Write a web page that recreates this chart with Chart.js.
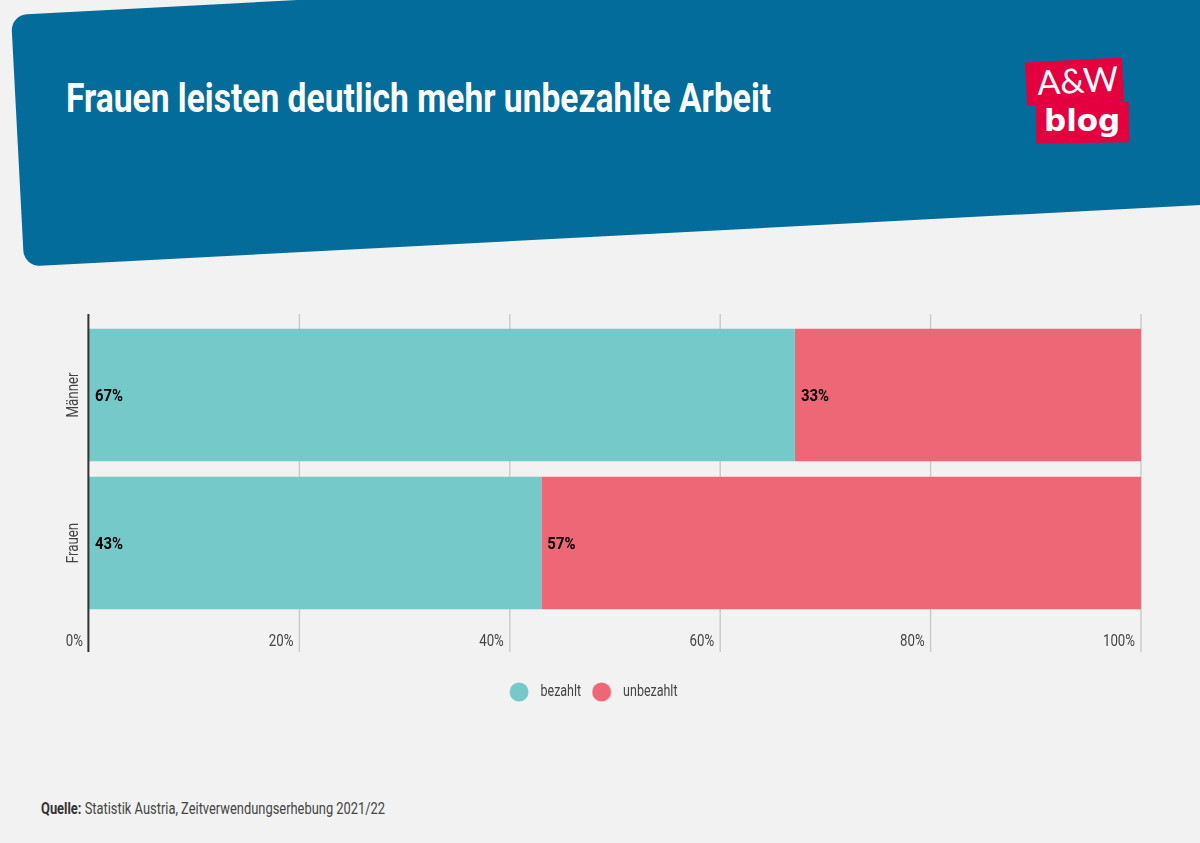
<!DOCTYPE html>
<html lang="de"><head><meta charset="utf-8">
<script src="https://cdn.jsdelivr.net/npm/chart.js@4"></script>
<style>
html,body{margin:0;padding:0;background:#f2f2f2;width:1200px;height:843px;overflow:hidden;font-family:Roboto,sans-serif}
#band{position:absolute;left:11.3px;top:15px;width:1300px;height:251.8px;background:#036c9b;border-radius:16px;transform-origin:0 0;transform:rotate(-3deg)}
#title{position:absolute;left:66px;top:74px;color:#fff;font-weight:700;font-size:41px;line-height:48px;white-space:nowrap;transform-origin:0 50%}
.lg{position:absolute;background:#e4003f}
#l1{left:1025.5px;top:59.5px;width:97px;height:43px;transform:rotate(-3deg)}
#l2{left:1036px;top:101.5px;width:93px;height:41px;transform:rotate(-.8deg)}
.lt{position:absolute;color:#fff;white-space:nowrap}
#t1{left:1037px;top:62px;font:400 34px/40px Lato,sans-serif;transform-origin:0 50%;transform:rotate(-3deg)}
#t2{left:1044px;top:100px;font:700 31px/40px 'DejaVu Sans',sans-serif}
#src{position:absolute;left:41px;top:797px;font-size:17px;line-height:22px;color:#444;white-space:nowrap;transform-origin:0 50%}
#src b{color:#333}
canvas{position:absolute;left:0;top:0}
</style></head><body>
<div id="band"></div>
<div id="title">Frauen leisten deutlich mehr unbezahlte Arbeit</div>
<div class="lg" id="l1"></div><div class="lg" id="l2"></div>
<div class="lt" id="t1">A&amp;W</div><div class="lt" id="t2">blog</div>
<div id="src"><b>Quelle:</b> Statistik Austria, Zeitverwendungserhebung 2021/22</div>
<div style="position:absolute;left:0;top:0;width:1200px;height:843px"><canvas id="c"></canvas></div>
<script>
const categories=['Männer','Frauen'];
const paid=[67.1,43];
const unpaid=[32.9,57];
const paidLabels=['67%','43%'];
const unpaidLabels=['33%','57%'];
const seriesNames=['bezahlt','unbezahlt'];
const xTicks=[0,20,40,60,80,100];
const TEAL='#76c9c9',RED='#ee6776';
const FONT="Roboto,sans-serif";
function fit(id,w){const e=document.getElementById(id);e.style.transform='scaleX('+(w/e.offsetWidth)+')';}
fit('title',705);fit('src',344);
function dot(col){const k=document.createElement('canvas');k.width=20;k.height=20;const g=k.getContext('2d');g.fillStyle=col;g.beginPath();g.arc(10,10,9.5,0,Math.PI*2);g.fill();return k;}
const cv=document.getElementById('c'),c0=cv.getContext('2d');
const ft=c0.fillText,mt=c0.measureText;
const narrow=g=>/bold|700/.test(g.font)?.93:.78;
c0.fillText=function(t,x,y){const s=narrow(this);this.save();this.translate(x,y);this.scale(s,1);ft.call(this,t,0,0);this.restore();};
c0.measureText=function(t){return {width:mt.call(this,t).width*narrow(this)};};
const extras={id:'extras',
 beforeDatasetsDraw(ch){const{ctx}=ch,x=ch.scales.x;ctx.save();ctx.strokeStyle='#c9c9c9';ctx.lineWidth=1.4;
  xTicks.slice(1).forEach(v=>{const p=x.getPixelForValue(v);ctx.beginPath();ctx.moveTo(p,314);ctx.lineTo(p,652);ctx.stroke();});
  ctx.restore();},
 afterDatasetsDraw(ch){const{ctx}=ch;ctx.save();ctx.font='bold 16px '+FONT;ctx.fillStyle='#000';ctx.textAlign='left';ctx.textBaseline='middle';
  [paidLabels,unpaidLabels].forEach((lab,d)=>ch.getDatasetMeta(d).data.forEach((b,i)=>{ctx.fillText(lab[i],b.base+6,b.y+1.5);}));
  const p=ch.scales.x.getPixelForValue(0);ctx.strokeStyle='#333';ctx.lineWidth=2;ctx.beginPath();ctx.moveTo(p-.6,314);ctx.lineTo(p-.6,652);ctx.stroke();
  ctx.restore();}
};
Chart.defaults.animation=false;
new Chart(cv,{type:'bar',plugins:[extras],
 data:{labels:categories,datasets:[
  {label:seriesNames[0],data:paid,backgroundColor:TEAL,pointStyle:dot(TEAL)},
  {label:seriesNames[1],data:unpaid,backgroundColor:RED,pointStyle:dot(RED)}]},
 options:{indexAxis:'y',responsive:true,maintainAspectRatio:false,devicePixelRatio:1,
  layout:{padding:{left:42,right:59,top:321,bottom:133}},
  datasets:{bar:{categoryPercentage:.895,barPercentage:1}},
  scales:{
   x:{stacked:true,min:0,max:100,afterFit(s){s.height=60;},
    afterBuildTicks(s){s.ticks=xTicks.map(v=>({value:v}));},
    grid:{display:false},border:{display:false},
    ticks:{align:'end',labelOffset:-6,padding:7,maxRotation:0,color:'#444',font:{family:FONT,size:17},callback:v=>v+'%'}},
   y:{stacked:true,afterFit(s){s.width=47;},grid:{display:false},border:{display:false},
    ticks:{minRotation:90,maxRotation:90,crossAlign:'center',padding:-15,color:'#444',font:{family:FONT,size:17}}}
  },
  plugins:{tooltip:{enabled:false},
   legend:{position:'bottom',labels:{usePointStyle:true,pointStyleWidth:27,padding:7,color:'#444',font:{family:FONT,size:16}}}}
 }});
</script></body></html>
